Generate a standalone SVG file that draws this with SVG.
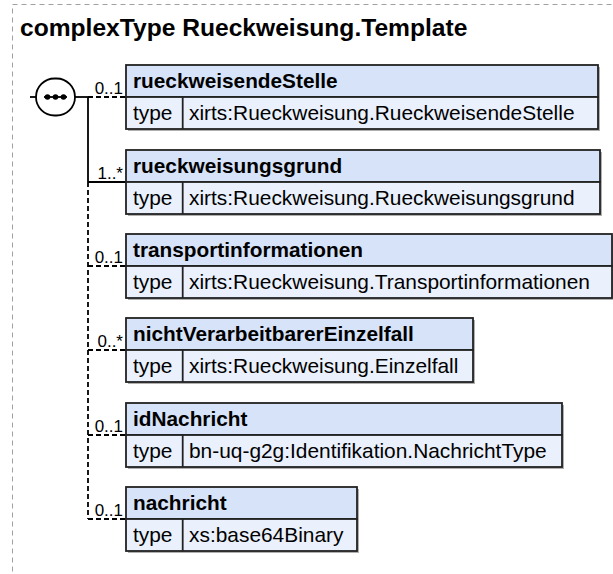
<svg xmlns="http://www.w3.org/2000/svg" width="613" height="574" viewBox="0 0 613 574">
<style>
.frame{fill:none;stroke:#a0a0a0;stroke-width:1;stroke-dasharray:5,4}
.title{font-family:"Liberation Sans",Arial,sans-serif;font-weight:bold;font-size:24.6px;fill:#000}
.hdr{fill:#d6e3f8;stroke:#222;stroke-width:1.8}
.body{fill:#eaf1fc;stroke:#222;stroke-width:1.8}
.shadow{fill:#b0b0b0}
.sep{stroke:#222;stroke-width:1.8}
.name{font-family:"Liberation Sans",Arial,sans-serif;font-weight:bold;font-size:20.8px;fill:#000}
.txt{font-family:"Liberation Sans",Arial,sans-serif;font-size:20.9px;fill:#000}
.card{font-family:"Liberation Sans",Arial,sans-serif;font-size:17px;fill:#000;text-anchor:end}
.solid{fill:none;stroke:#000;stroke-width:1.8}
.dash{fill:none;stroke:#000;stroke-width:1.8;stroke-dasharray:5,3}
</style>
<rect class="frame" x="12.5" y="4.5" width="640" height="620"/>
<text class="title" x="20" y="36">complexType Rueckweisung.Template</text>

<g id="sequence">
<line class="solid" x1="30" y1="97" x2="36" y2="97"/>
<rect x="36" y="78.5" width="39" height="37" rx="18.5" ry="18.5" fill="#fff" stroke="#000" stroke-width="1.8"/>
<line x1="44" y1="97" x2="67" y2="97" stroke="#000" stroke-width="1.8"/>
<circle cx="47.5" cy="97" r="2.8" fill="#000"/>
<circle cx="55.5" cy="97" r="2.8" fill="#000"/>
<circle cx="63.5" cy="97" r="2.8" fill="#000"/>
<line class="solid" x1="75" y1="97" x2="88" y2="97"/>
</g>

<g id="connectors">
<line class="solid" x1="88" y1="97" x2="88" y2="182"/>
<line class="dash" x1="88" y1="182" x2="88" y2="519"/>
<line class="dash" x1="88" y1="97" x2="126" y2="97"/>
<line class="solid" x1="88" y1="182" x2="126" y2="182"/>
<line class="dash" x1="88" y1="266" x2="126" y2="266"/>
<line class="dash" x1="88" y1="350" x2="126" y2="350"/>
<line class="dash" x1="88" y1="435" x2="126" y2="435"/>
<line class="dash" x1="88" y1="519" x2="126" y2="519"/>
<text class="card" x="123" y="94">0..1</text>
<text class="card" x="123" y="179">1..*</text>
<text class="card" x="123" y="263">0..1</text>
<text class="card" x="123" y="347">0..*</text>
<text class="card" x="123" y="432">0..1</text>
<text class="card" x="123" y="516">0..1</text>
</g>

<g id="rueckweisendeStelle">
<rect class="shadow" x="128" y="67" width="472" height="64"/>
<rect class="hdr" x="126" y="65" width="472" height="32"/>
<rect class="body" x="126" y="97" width="472" height="32"/>
<line class="sep" x1="182.7" y1="97" x2="182.7" y2="129"/>
<text class="name" x="133" y="88">rueckweisendeStelle</text>
<text class="txt" x="133" y="120">type</text>
<text class="txt" x="189" y="120">xirts:Rueckweisung.RueckweisendeStelle</text>
</g>

<g id="rueckweisungsgrund">
<rect class="shadow" x="128" y="152" width="474" height="64"/>
<rect class="hdr" x="126" y="150" width="474" height="32"/>
<rect class="body" x="126" y="182" width="474" height="32"/>
<line class="sep" x1="182.7" y1="182" x2="182.7" y2="214"/>
<text class="name" x="133" y="173">rueckweisungsgrund</text>
<text class="txt" x="133" y="205">type</text>
<text class="txt" x="189" y="205">xirts:Rueckweisung.Rueckweisungsgrund</text>
</g>

<g id="transportinformationen">
<rect class="shadow" x="128" y="236" width="486" height="64"/>
<rect class="hdr" x="126" y="234" width="486" height="32"/>
<rect class="body" x="126" y="266" width="486" height="32"/>
<line class="sep" x1="182.7" y1="266" x2="182.7" y2="298"/>
<text class="name" x="133" y="257">transportinformationen</text>
<text class="txt" x="133" y="289">type</text>
<text class="txt" x="189" y="289">xirts:Rueckweisung.Transportinformationen</text>
</g>

<g id="nichtVerarbeitbarerEinzelfall">
<rect class="shadow" x="128" y="320" width="347" height="64"/>
<rect class="hdr" x="126" y="318" width="347" height="32"/>
<rect class="body" x="126" y="350" width="347" height="32"/>
<line class="sep" x1="182.7" y1="350" x2="182.7" y2="382"/>
<text class="name" x="133" y="341">nichtVerarbeitbarerEinzelfall</text>
<text class="txt" x="133" y="373">type</text>
<text class="txt" x="189" y="373">xirts:Rueckweisung.Einzelfall</text>
</g>

<g id="idNachricht">
<rect class="shadow" x="128" y="405" width="436" height="64"/>
<rect class="hdr" x="126" y="403" width="436" height="32"/>
<rect class="body" x="126" y="435" width="436" height="32"/>
<line class="sep" x1="182.7" y1="435" x2="182.7" y2="467"/>
<text class="name" x="133" y="426">idNachricht</text>
<text class="txt" x="133" y="458">type</text>
<text class="txt" x="189" y="458">bn-uq-g2g:Identifikation.NachrichtType</text>
</g>

<g id="nachricht">
<rect class="shadow" x="128" y="489" width="231" height="64"/>
<rect class="hdr" x="126" y="487" width="231" height="32"/>
<rect class="body" x="126" y="519" width="231" height="32"/>
<line class="sep" x1="182.7" y1="519" x2="182.7" y2="551"/>
<text class="name" x="133" y="510">nachricht</text>
<text class="txt" x="133" y="542">type</text>
<text class="txt" x="189" y="542">xs:base64Binary</text>
</g>
</svg>
